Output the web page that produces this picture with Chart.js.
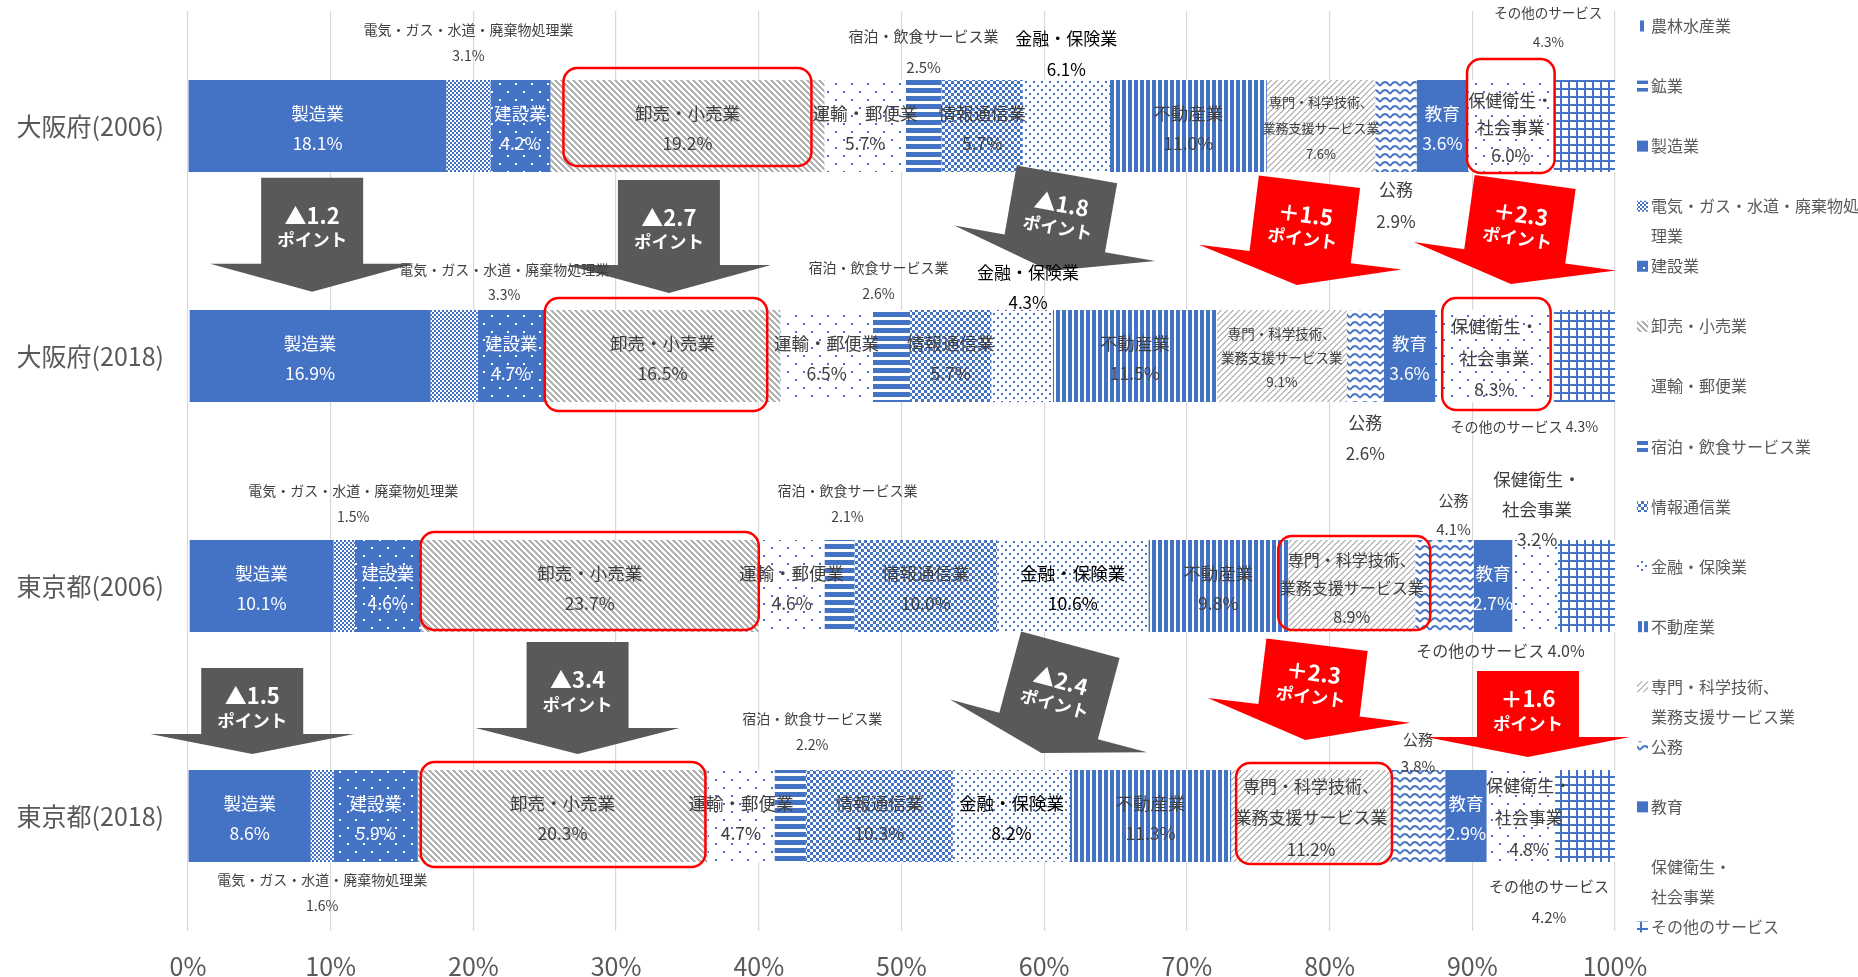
<!DOCTYPE html>
<html lang="ja">
<head>
<meta charset="utf-8">
<title>産業別構成比（大阪府・東京都）</title>
<style>
  html, body { margin: 0; padding: 0; background: #fff; }
</style>
</head>
<body>
<canvas id="chart" width="1858" height="977"></canvas>
<script src="https://cdn.jsdelivr.net/npm/chart.js@4.4.1/dist/chart.umd.min.js"></script>
<script>
const regions = ['大阪府(2006)', '大阪府(2018)', '東京都(2006)', '東京都(2018)'];

const industries = ['農林水産業', '鉱業', '製造業', '電気・ガス・水道・廃棄物処理業', '建設業', '卸売・小売業',
  '運輸・郵便業', '宿泊・飲食サービス業', '情報通信業', '金融・保険業', '不動産業',
  '専門・科学技術、業務支援サービス業', '公務', '教育', '保健衛生・社会事業', 'その他のサービス'];
const keys = ['agri', 'mining', 'mfg', 'util', 'constr', 'trade', 'transport', 'hotel', 'info',
  'finance', 'realty', 'prof', 'gov', 'edu', 'health', 'other'];

// shares in %, same order as `industries`
const osaka2006 = [0.0, 0.0, 18.1, 3.1, 4.2, 19.2, 5.7, 2.5, 5.7, 6.1, 11.0, 7.6, 2.9, 3.6, 6.0, 4.3];
const osaka2018 = [0.1, 0.0, 16.9, 3.3, 4.7, 16.5, 6.5, 2.6, 5.7, 4.3, 11.5, 9.1, 2.6, 3.6, 8.3, 4.3];
const tokyo2006 = [0.1, 0.0, 10.1, 1.5, 4.6, 23.7, 4.6, 2.1, 10.0, 10.6, 9.8, 8.9, 4.1, 2.7, 3.2, 4.0];
const tokyo2018 = [0.0, 0.0, 8.6, 1.6, 5.9, 20.3, 4.7, 2.2, 10.3, 8.2, 11.3, 11.2, 3.8, 2.9, 4.8, 4.2];
const shares = [osaka2006, osaka2018, tokyo2006, tokyo2018];

const xTicks = [0, 10, 20, 30, 40, 50, 60, 70, 80, 90, 100];

const FONT = "'Noto Sans CJK JP', 'Noto Sans', sans-serif";
const BLUE = '#4472C4';
const TEXT = '#404040';
const AXIS = '#595959';

// ---- pattern fills ----
function tile(w, h, paint) {
  const c = document.createElement('canvas');
  c.width = w; c.height = h;
  const g = c.getContext('2d');
  g.fillStyle = '#fff';
  g.fillRect(0, 0, w, h);
  g.fillStyle = BLUE;
  paint(g);
  return g.createPattern(c, 'repeat');
}
function stripes(g, n, color, test) {
  g.fillStyle = color;
  for (let y = 0; y < n; y++) for (let x = 0; x < n; x++) if (test(x, y)) g.fillRect(x, y, 1, 1);
}
const sparseDots = () => tile(16, 16, g => { g.fillRect(3, 3, 2, 2); g.fillRect(11, 11, 2, 2); });

const fills = {
  agri: tile(8, 8, g => g.fillRect(0, 0, 4, 8)),
  mining: tile(8, 8, g => g.fillRect(0, 0, 8, 4)),
  mfg: BLUE,
  util: tile(4, 4, g => { g.fillRect(0, 0, 2, 2); g.fillRect(2, 2, 2, 2); }),
  constr: tile(16, 16, g => {
    g.fillRect(0, 0, 16, 16);
    g.fillStyle = '#fff';
    g.fillRect(3, 3, 2, 2); g.fillRect(11, 11, 2, 2);
  }),
  trade: tile(6, 6, g => stripes(g, 6, '#B2B2B2', (x, y) => ((x - y) % 6 + 6) % 6 < 3)),
  transport: sparseDots(),
  hotel: tile(8, 8, g => g.fillRect(0, 0, 8, 5)),
  info: tile(6, 6, g => { g.fillRect(0, 0, 3, 3); g.fillRect(3, 3, 3, 3); }),
  finance: tile(8, 8, g => { g.fillRect(1, 1, 2, 2); g.fillRect(5, 5, 2, 2); }),
  realty: tile(6, 6, g => g.fillRect(0, 0, 4, 6)),
  prof: tile(6, 6, g => stripes(g, 6, '#BDBDBD', (x, y) => (x + y) % 6 < 2)),
  gov: tile(10, 8, g => {
    g.strokeStyle = BLUE; g.lineWidth = 1.8;
    g.beginPath(); g.moveTo(0, 6); g.quadraticCurveTo(5, -2, 10, 6); g.stroke();
  }),
  edu: BLUE,
  health: sparseDots(),
  other: tile(8, 8, g => { g.fillRect(0, 0, 8, 2); g.fillRect(0, 0, 2, 8); })
};

// ---- label text ----
const labelNames = {
  mfg: ['製造業'], util: ['電気・ガス・水道・廃棄物処理業'], constr: ['建設業'], trade: ['卸売・小売業'],
  transport: ['運輸・郵便業'], hotel: ['宿泊・飲食サービス業'], info: ['情報通信業'], finance: ['金融・保険業'],
  realty: ['不動産業'], prof: ['専門・科学技術、', '業務支援サービス業'], gov: ['公務'], edu: ['教育'],
  health: ['保健衛生・', '社会事業'], other: ['その他のサービス']
};
const legendNames = {
  util: ['電気・ガス・水道・廃棄物処', '理業'],
  prof: ['専門・科学技術、', '業務支援サービス業'],
  health: ['保健衛生・', '社会事業']
};
const whiteText = ['mfg', 'constr', 'edu'];

// where each data label sits; anything not listed is centred inside its segment
const labelSpots = [
  {
    util: { at: 'above', gap: 24, lh: 26, size: 14 },
    hotel: { at: 'above', gap: 13, lh: 31, size: 15 },
    finance: { at: 'above', gap: 10, lh: 31, size: 17, color: '#000' },
    prof: { size: 13, lh: 26 },
    gov: { at: 'below', gap: 18, lh: 32, size: 17 },
    health: { lh: 27.5, size: 17 },
    other: { at: 'above', gap: 38, lh: 29, size: 13.5, dx: -36 }
  },
  {
    util: { at: 'above', gap: 15, lh: 25, size: 14, dx: 50 },
    hotel: { at: 'above', gap: 16, lh: 26, size: 14, dx: -13 },
    finance: { at: 'above', gap: 7, lh: 30, size: 17, dx: 6, color: '#000' },
    prof: { size: 13.5, lh: 24 },
    gov: { at: 'below', gap: 21, lh: 31, size: 17 },
    health: { lh: 31.5, size: 17.5 },
    other: { at: 'below', gap: 25, size: 14, dx: -60, inline: true }
  },
  {
    util: { at: 'above', gap: 23, lh: 26, size: 14, dx: 9 },
    hotel: { at: 'above', gap: 23, lh: 26, size: 14, dx: 8 },
    finance: { color: '#000' },
    prof: { size: 16, lh: 28.5 },
    gov: { at: 'above', gap: 11, lh: 29, size: 15, dx: 9 },
    health: { at: 'above', gap: 1, lh: 30, size: 17.5, dx: 2 },
    other: { at: 'below', gap: 19, size: 16, dx: -86, inline: true }
  },
  {
    util: { at: 'below', gap: 18, lh: 26, size: 14 },
    hotel: { at: 'above', gap: 25, lh: 26, size: 14, dx: 22 },
    finance: { color: '#000' },
    prof: { size: 17, lh: 31.5 },
    gov: { at: 'above', gap: 4, lh: 27, size: 15 },
    health: { lh: 32, size: 17, dx: 8 },
    other: { at: 'below', gap: 24, lh: 31, size: 15, dx: -36 }
  }
];

// red frames: [row, industry, grow left, grow right, grow top, grow bottom] in px
const highlights = [
  [0, 'trade', -13, -13, 12, -6],
  [0, 'health', 1, 1, 21, 1],
  [1, 'trade', 0, -13, 12, 9],
  [1, 'health', -7, -3, 12, 8],
  [2, 'trade', 0, 0, 8, -2],
  [2, 'prof', 10, 15, 4, -2],
  [3, 'trade', -3, -2, 8, 5],
  [3, 'prof', -5, 1, 7, 2]
];

// change arrows: [from row, to row, industry, tip x (%), tip y (category axis), tilt deg, length px, head px]
const shifts = [
  [0, 1, 'mfg', 8.7, 0.721, 0, 114, 28],
  [0, 1, 'trade', 33.7, 0.726, 0, 113, 28],
  [0, 1, 'finance', 60.4, 0.630, 10, 98, 28],
  [0, 1, 'prof', 77.7, 0.691, 7, 104, 28],
  [0, 1, 'health', 92.7, 0.687, 8, 103, 28],
  [2, 3, 'mfg', 4.5, 2.730, 0, 86, 20],
  [2, 3, 'trade', 27.3, 2.730, 0, 112, 26],
  [2, 3, 'finance', 59.8, 2.726, 15, 112, 28],
  [2, 3, 'prof', 78.3, 2.670, 7, 96, 30],
  [2, 3, 'health', 93.9, 2.743, 0, 86, 20]
];

function segBox(chart, row, key) {
  const p = chart.getDatasetMeta(keys.indexOf(key)).data[row].getProps(['x', 'y', 'base', 'height'], true);
  return {
    left: Math.min(p.x, p.base), right: Math.max(p.x, p.base),
    top: p.y - p.height / 2, bottom: p.y + p.height / 2, cy: p.y
  };
}

function drawArrow(ctx, s, chart) {
  const [from, to, key, tx, ty, tilt, len, head] = s;
  const i = keys.indexOf(key);
  const diff = shares[to][i] - shares[from][i];
  const text = diff < 0 ? '▲' + Math.abs(diff).toFixed(1) : '＋' + diff.toFixed(1);
  const shaftW = 102, headW = 204;
  ctx.save();
  ctx.translate(chart.scales.x.getPixelForValue(tx), chart.scales.y.getPixelForValue(ty));
  ctx.rotate(tilt * Math.PI / 180);
  ctx.beginPath();
  ctx.moveTo(0, 0);
  ctx.lineTo(-headW / 2, -head);
  ctx.lineTo(-shaftW / 2, -head);
  ctx.lineTo(-shaftW / 2, -len);
  ctx.lineTo(shaftW / 2, -len);
  ctx.lineTo(shaftW / 2, -head);
  ctx.lineTo(headW / 2, -head);
  ctx.closePath();
  ctx.fillStyle = diff < 0 ? '#595959' : '#FF0000';
  ctx.fill();
  const mid = -(head + (len - head) / 2 - 7);
  ctx.fillStyle = '#fff';
  ctx.textAlign = 'center';
  ctx.textBaseline = 'middle';
  ctx.font = `bold 22px ${FONT}`;
  ctx.fillText(text, 0, mid - 12);
  ctx.font = `bold 17.5px ${FONT}`;
  ctx.fillText('ポイント', 0, mid + 12);
  ctx.restore();
}

function drawLabels(ctx, chart) {
  ctx.save();
  ctx.textAlign = 'center';
  ctx.textBaseline = 'middle';
  shares.forEach((vals, r) => {
    keys.forEach((k, i) => {
      if (!labelNames[k]) return;
      const b = segBox(chart, r, k);
      const spot = Object.assign({ at: 'in', size: 17.5, lh: 30, dx: 0, gap: 0 }, labelSpots[r][k] || {});
      const value = vals[i].toFixed(1) + '%';
      const lines = spot.inline ? [labelNames[k].join('') + ' ' + value] : [...labelNames[k], value];
      let y0;
      if (spot.at === 'in') y0 = b.cy + 2 - (lines.length - 1) * spot.lh / 2;
      else if (spot.at === 'above') y0 = b.top - spot.gap - (lines.length - 1) * spot.lh;
      else y0 = b.bottom + spot.gap;
      ctx.fillStyle = spot.color || (spot.at === 'in' && whiteText.includes(k) ? '#fff' : TEXT);
      ctx.font = `${spot.size}px ${FONT}`;
      const cx = (b.left + b.right) / 2 + spot.dx;
      lines.forEach((t, n) => ctx.fillText(t, cx, y0 + n * spot.lh));
    });
  });
  ctx.restore();
}

function drawHighlights(ctx, chart) {
  ctx.save();
  ctx.strokeStyle = '#FF0000';
  ctx.lineWidth = 2.5;
  highlights.forEach(([r, k, gl, gr, gt, gb]) => {
    const b = segBox(chart, r, k);
    ctx.beginPath();
    ctx.roundRect(b.left - gl, b.top - gt, (b.right + gr) - (b.left - gl), (b.bottom + gb) - (b.top - gt), 14);
    ctx.stroke();
  });
  ctx.restore();
}

function drawLegend(ctx, chart) {
  const area = chart.chartArea;
  const x = area.right + 22;
  const step = (area.bottom - area.top - 19) / (keys.length - 1);
  ctx.save();
  ctx.textAlign = 'left';
  ctx.textBaseline = 'middle';
  ctx.font = `16px ${FONT}`;
  keys.forEach((k, i) => {
    const y = area.top + 15 + i * step;
    ctx.fillStyle = fills[k];
    ctx.fillRect(x, y - 5.5, 11, 11);
    ctx.fillStyle = AXIS;
    const lines = legendNames[k] || [industries[i]];
    lines.forEach((t, n) => ctx.fillText(t, x + 14, y + n * 30));
  });
  ctx.restore();
}

const overlay = {
  id: 'overlay',
  afterDatasetsDraw(chart) {
    const ctx = chart.ctx;
    shifts.forEach(s => drawArrow(ctx, s, chart));
    drawLabels(ctx, chart);
    drawHighlights(ctx, chart);
    drawLegend(ctx, chart);
  }
};

const datasets = industries.map((name, i) => ({
  label: name,
  data: shares.map(row => row[i]),
  backgroundColor: fills[keys[i]],
  borderWidth: 0,
  categoryPercentage: 0.8,
  barPercentage: 0.5
}));

new Chart(document.getElementById('chart'), {
  type: 'bar',
  data: { labels: regions, datasets },
  options: {
    indexAxis: 'y',
    responsive: false,
    animation: false,
    layout: { padding: { top: 11, right: 243, left: 0, bottom: 0 } },
    plugins: { legend: { display: false }, tooltip: { enabled: false } },
    scales: {
      x: {
        stacked: true,
        min: 0,
        max: 100,
        afterBuildTicks: s => { s.ticks = xTicks.map(v => ({ value: v })); },
        afterFit: s => { s.height = 46; },
        ticks: { callback: v => v + '%', color: AXIS, padding: 20, font: { family: FONT, size: 25 } },
        grid: { color: '#D9D9D9', lineWidth: 1.2, drawTicks: false },
        border: { display: false }
      },
      y: {
        stacked: true,
        afterFit: s => { s.width = 188; s.paddingTop = 0; s.paddingBottom = 0; },
        ticks: { color: AXIS, padding: 24, font: { family: FONT, size: 25 } },
        grid: { display: false, drawTicks: false },
        border: { display: false }
      }
    }
  },
  plugins: [overlay]
});
</script>
</body>
</html>
